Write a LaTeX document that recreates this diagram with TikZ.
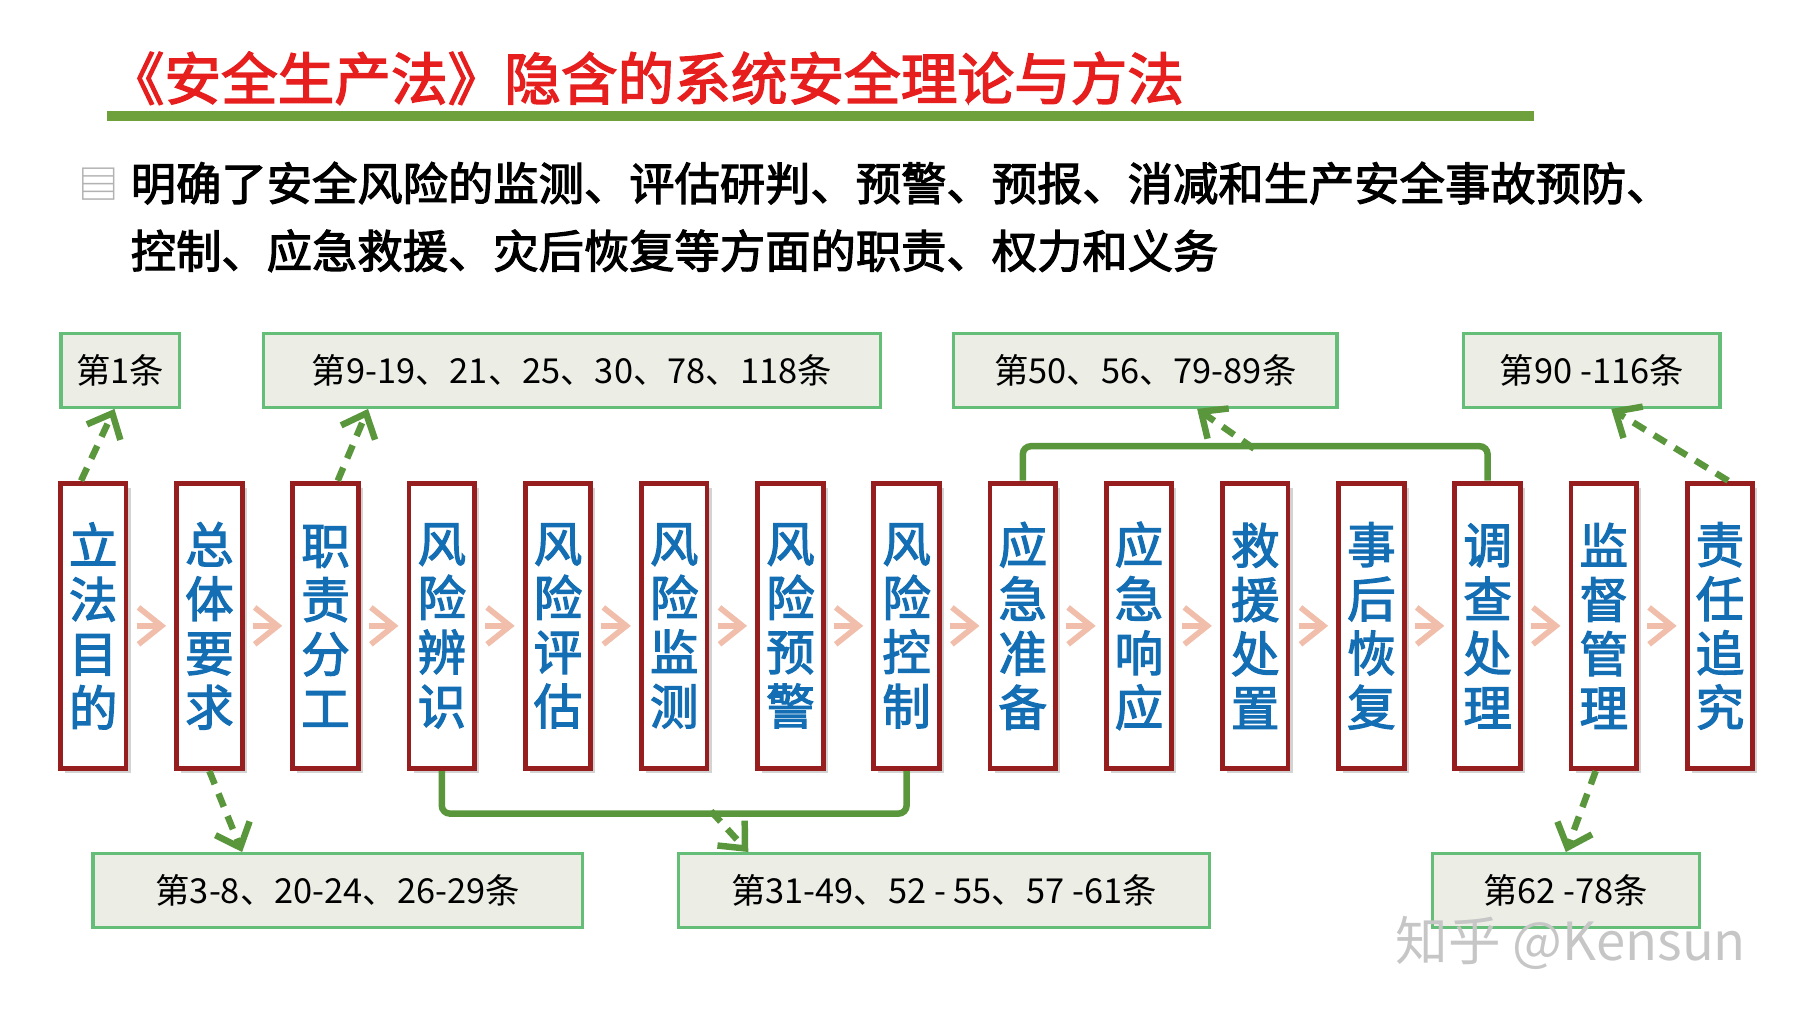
\documentclass[tikz,border=0pt]{standalone}
\usepackage{fontspec}
\setmainfont{Liberation Serif}
\newfontfamily\cjk[AutoFakeBold=2.5]{Noto Sans CJK SC}
\usetikzlibrary{positioning,shadows,arrows.meta}
\definecolor{titlered}{RGB}{230,30,30}
\definecolor{lawgreen}{RGB}{110,160,60}
\definecolor{stepblue}{RGB}{20,110,180}
\definecolor{stepred}{RGB}{150,30,30}
\definecolor{peach}{RGB}{240,190,170}
\definecolor{boxfill}{RGB}{236,238,230}
\definecolor{boxline}{RGB}{100,190,120}
\definecolor{flowgreen}{RGB}{90,150,60}
\tikzstyle{stage} = [rectangle, draw=stepred, line width=1.2pt, fill=white, minimum width=0.57cm, minimum height=2.48cm, inner sep=0pt, align=center, font=\cjk\bfseries\fontsize{12}{13.4}\selectfont, text=stepblue, drop shadow={opacity=0.35, shadow xshift=0.4mm, shadow yshift=-0.4mm}]
\tikzstyle{article} = [rectangle, draw=boxline, line width=0.8pt, fill=boxfill, minimum height=0.64cm, font=\cjk\fontsize{8.5}{10}\selectfont]
\tikzstyle{flow} = [draw=peach, line width=1.4pt, -{Straight Barb[length=2mm,width=3.2mm]}]
\tikzstyle{link} = [draw=flowgreen, line width=1.6pt, dash pattern=on 3.5pt off 2.5pt, -{Straight Barb[length=1.8mm,width=3.2mm]}]
\tikzstyle{bracket} = [draw=flowgreen, line width=1.6pt, rounded corners=2pt]
\begin{document}
\begin{tikzpicture}[x=0.01cm, y=-0.01cm]
    \useasboundingbox (0,0) rectangle (1568,882);
    % title
    \node (title) [anchor=west, text=titlered, font=\cjk\bfseries\fontsize{14}{15}\selectfont, inner sep=0pt] at (93,68) {《安全生产法》隐含的系统安全理论与方法};
    \draw [lawgreen, line width=2.5pt] (93,101) -- (1333,101);
    % summary
    \node (icon) [font=\cjk\fontsize{10}{10}\selectfont, text=gray!60, inner sep=0pt] at (86,160) {▤};
    \node (summary) [anchor=north west, align=left, inner sep=0pt, font=\cjk\bfseries\fontsize{11.2}{16.7}\selectfont] at (113,140) {明确了安全风险的监测、评估研判、预警、预报、消减和生产安全事故预防、\\控制、应急救援、灾后恢复等方面的职责、权力和义务};
    % stages
    \foreach \name/\txt [count=\i from 0] in {s0/立\\法\\目\\的, s1/总\\体\\要\\求, s2/职\\责\\分\\工, s3/风\\险\\辨\\识, s4/风\\险\\评\\估, s5/风\\险\\监\\测, s6/风\\险\\预\\警, s7/风\\险\\控\\制, s8/应\\急\\准\\备, s9/应\\急\\响\\应, s10/救\\援\\处\\置, s11/事\\后\\恢\\复, s12/调\\查\\处\\理, s13/监\\督\\管\\理, s14/责\\任\\追\\究}
        \node (\name) [stage] at ({81+101*\i},544) {\txt};
    \foreach \a/\b in {s0/s1, s1/s2, s2/s3, s3/s4, s4/s5, s5/s6, s6/s7, s7/s8, s8/s9, s9/s10, s10/s11, s11/s12, s12/s13, s13/s14}
        \draw [flow] ([xshift=2pt]\a.east) -- ([xshift=-2pt]\b.west);
    % articles
    \node (a1) [article, minimum width=1.03cm] at (104.5,322) {第1条};
    \node (a9) [article, minimum width=5.36cm] at (497,322) {第9-19、21、25、30、78、118条};
    \node (a50) [article, minimum width=3.33cm] at (995.5,322) {第50、56、79-89条};
    \node (a90) [article, minimum width=2.23cm] at (1383.5,322) {第90 -116条};
    \node (a3) [article, minimum width=4.25cm] at (293.5,774) {第3-8、20-24、26-29条};
    \node (a31) [article, minimum width=4.61cm] at (820.5,774) {第31-49、52 - 55、57 -61条};
    \node (a62) [article, minimum width=2.32cm] at (1361,774) {第62 -78条};
    % brackets
    \draw [bracket] (s8.north) -- ++(0,-30) -| (s12.north);
    \draw [bracket] (s3.south) -- ++(0,37) -| (s7.south);
    \coordinate (up) at (1090,390);
    \coordinate (down) at (618,705);
    % links
    \draw [link] ([xshift=-3pt]s0.north) -- ([xshift=-0.05cm]a1.south);
    \draw [link] ([xshift=3pt]s2.north) -- ([xshift=-1.77cm]a9.south);
    \draw [link] (up) -- ([xshift=0.45cm]a50.south);
    \draw [link] ([xshift=2pt]s14.north) -- ([xshift=0.17cm]a90.south);
    \draw [link] (s1.south) -- ([xshift=-0.83cm]a3.north);
    \draw [link] (down) -- ([xshift=-1.7cm]a31.north);
    \draw [link] ([xshift=-2pt]s13.south) -- (a62.north);
    % watermark
    \node (mark) [anchor=east, text=gray!45, font=\cjk\fontsize{13}{15}\selectfont] at (1530,820) {知乎 @Kensun};
\end{tikzpicture}
\end{document}
